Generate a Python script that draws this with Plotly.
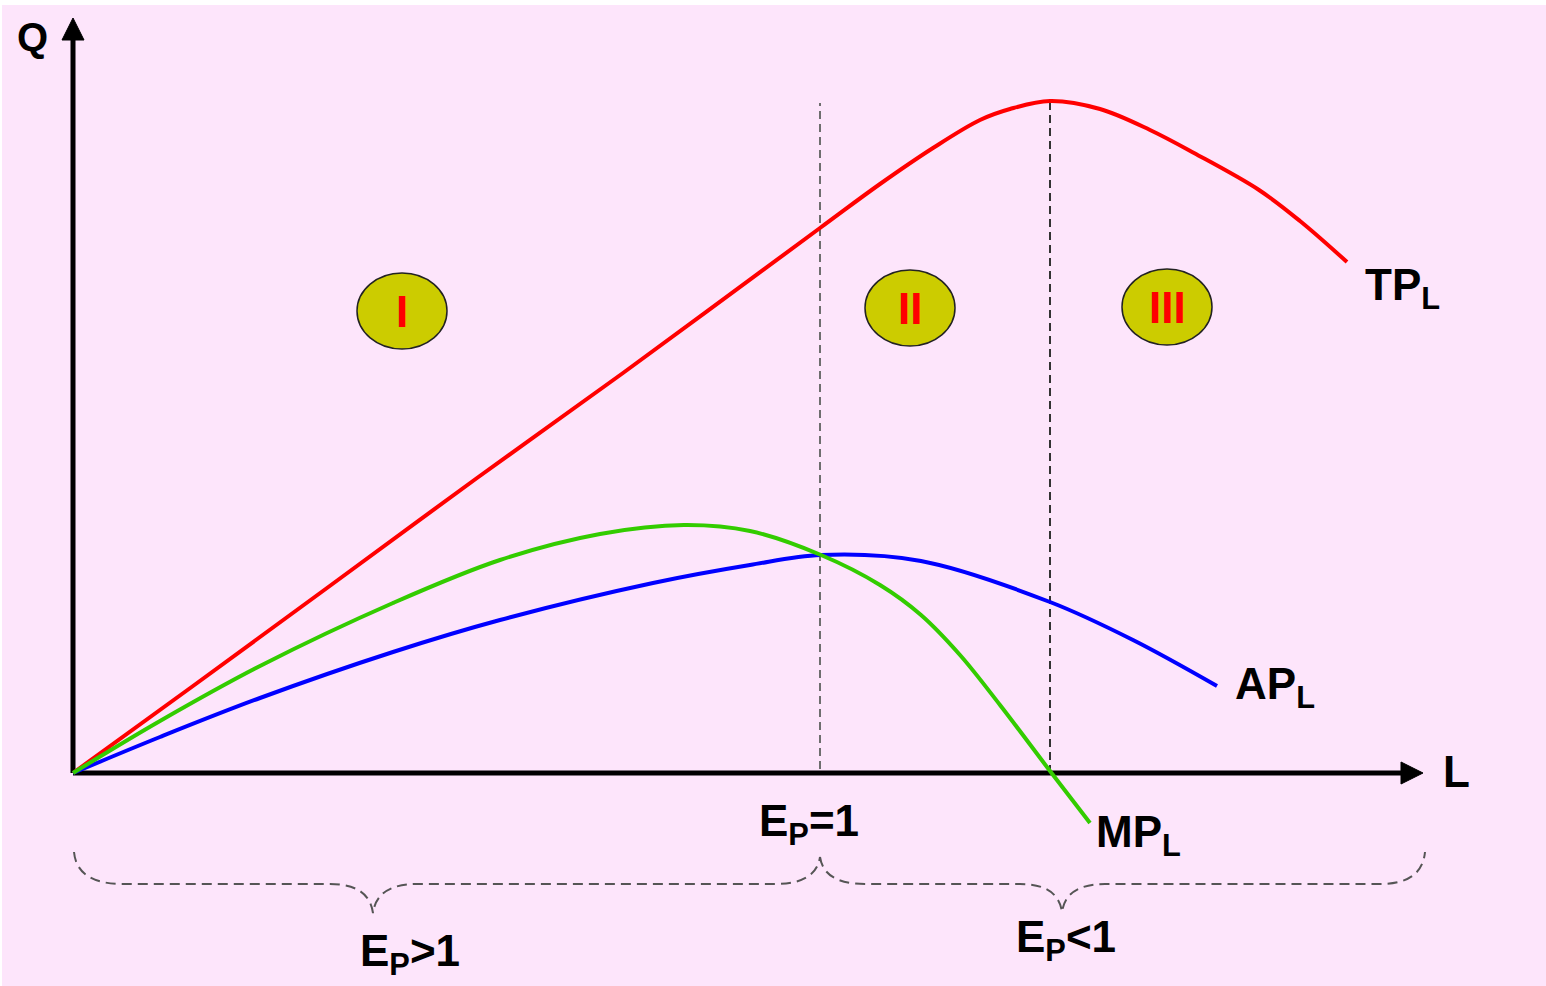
import plotly.graph_objects as go

# ---------------- data (L units, Q units) ----------------
tp_L = [0, 1.20, 2.54, 4.04, 5.50, 7.47, 8.07, 8.60, 9.07, 9.37, 9.77, 10.27, 10.77, 11.21, 11.86, 12.27, 12.74]
tp_Q = [0, 0.87, 1.85, 2.95, 4.00, 5.45, 5.89, 6.25, 6.53, 6.64, 6.72, 6.64, 6.43, 6.20, 5.83, 5.52, 5.11]

ap_L = [0, 0.87, 1.87, 3.20, 4.27, 5.80, 6.77, 7.48, 8.48, 9.77, 10.60, 11.44]
ap_Q = [0, 0.36, 0.75, 1.21, 1.53, 1.90, 2.08, 2.18, 2.12, 1.71, 1.33, 0.87]

mp_L = [0, 0.87, 1.87, 3.20, 4.27, 5.27, 6.11, 6.77, 7.48, 8.07, 8.48, 8.87, 9.27, 9.77, 10.17]
mp_Q = [0, 0.52, 1.07, 1.70, 2.13, 2.39, 2.48, 2.42, 2.18, 1.88, 1.58, 1.18, 0.68, 0.02, -0.50]

ep1_L = 7.47        # AP max, E_P = 1
tpmax_L = 9.77      # TP max, MP = 0
ep1_top = 6.70
tpmax_top = 6.72

stage_labels = ["I", "II", "III"]
stage_L = [3.29, 8.37, 10.94]
stage_Q = [4.62, 4.65, 4.66]

# ---------------- styling ----------------
BG = "#FDE5FB"
FONT = "Liberation Sans, Arial, sans-serif"
FS = 44
RED = "#FF0000"
BLUE = "#0000FF"
GREEN = "#33CC00"

X_RANGE = [-0.73, 14.73]
Y_RANGE = [-2.13, 7.73]
x_axis_end = 13.50
y_axis_end = 7.55

fig = go.Figure()

for xs, ys, c in ((tp_L, tp_Q, RED), (ap_L, ap_Q, BLUE), (mp_L, mp_Q, GREEN)):
    fig.add_trace(go.Scatter(x=xs, y=ys, mode="lines",
                             line=dict(color=c, width=4, shape="spline", smoothing=1.0),
                             hoverinfo="skip"))

shapes = []
# pink background panel
shapes.append(dict(type="rect", xref="paper", yref="paper", x0=2 / 1546, x1=1, y0=0, y1=1 - 5 / 986,
                   fillcolor=BG, line=dict(width=0), layer="below"))
# dashed vertical lines
shapes.append(dict(type="line", xref="x", yref="y", x0=ep1_L, x1=ep1_L, y0=0.04, y1=ep1_top,
                   line=dict(color="#6E6E6E", width=2, dash="8px,5px"), layer="below"))
shapes.append(dict(type="line", xref="x", yref="y", x0=tpmax_L, x1=tpmax_L, y0=0.0, y1=tpmax_top,
                   line=dict(color="#333333", width=2, dash="8px,5px"), layer="below"))
# axes
shapes.append(dict(type="line", xref="x", yref="y", x0=0, x1=x_axis_end - 0.15, y0=0, y1=0,
                   line=dict(color="black", width=5), layer="below"))
shapes.append(dict(type="line", xref="x", yref="y", x0=0, x1=0, y0=0, y1=y_axis_end - 0.15,
                   line=dict(color="black", width=5), layer="below"))
# arrow heads
hx, hy = 0.22, 0.11
shapes.append(dict(type="path", xref="x", yref="y",
                   path=f"M {x_axis_end},0 L {x_axis_end - hx},{hy} L {x_axis_end - hx},{-hy} Z",
                   fillcolor="black", line=dict(color="black", width=1), layer="below"))
shapes.append(dict(type="path", xref="x", yref="y",
                   path=f"M 0,{y_axis_end} L {-hy},{y_axis_end - hx} L {hy},{y_axis_end - hx} Z",
                   fillcolor="black", line=dict(color="black", width=1), layer="below"))

# braces
by = -1.11
b1 = (f"M 0.01,-0.79 Q 0.04,{by} 0.50,{by} L 2.57,{by} Q 2.96,{by} 3.00,-1.40 "
      f"Q 3.04,{by} 3.44,{by} L 7.02,{by} Q 7.43,{by} {ep1_L},-0.84")
b2 = (f"M {ep1_L},-0.84 Q 7.51,{by} 7.92,{by} L 9.47,{by} Q 9.85,{by} 9.89,-1.39 "
      f"Q 9.93,{by} 10.32,{by} L 13.07,{by} Q 13.49,{by} 13.52,-0.79")
for p in (b1, b2):
    shapes.append(dict(type="path", xref="x", yref="y", path=p,
                       line=dict(color="#555555", width=2, dash="10px,6px"), layer="below"))

# stage ellipses
for lx, qy in zip(stage_L, stage_Q):
    shapes.append(dict(type="circle", xref="x", yref="y", x0=lx - 0.45, x1=lx + 0.45,
                       y0=qy - 0.38, y1=qy + 0.38, fillcolor="#CCCC00",
                       line=dict(color="#222222", width=1.5), layer="above"))

annotations = []


def lab(text, x, y, xanchor="left", yanchor="middle", size=FS, color="black"):
    annotations.append(dict(text=text, x=x, y=y, xref="x", yref="y", showarrow=False,
                            xanchor=xanchor, yanchor=yanchor,
                            font=dict(family=FONT, size=size, color=color)))


for t, lx, qy in zip(stage_labels, stage_L, stage_Q):
    lab(f"<b>{t}</b>", lx, qy, xanchor="center", color=RED)

lab("<b>Q</b>", -0.41, 7.36, xanchor="center", size=40)
lab("<b>L</b>", 13.83, 0.02, xanchor="center")
lab("<b>TP<sub>L</sub></b>", 12.90, 4.85)
lab("<b>AP<sub>L</sub></b>", 11.60, 0.86)
lab("<b>MP<sub>L</sub></b>", 10.21, -0.62)
lab("<b>E<sub>P</sub>=1</b>", 7.36, -0.51, xanchor="center")
lab("<b>E<sub>P</sub>&lt;1</b>", 9.93, -1.67, xanchor="center")
lab("<b>E<sub>P</sub>&gt;1</b>", 3.37, -1.81, xanchor="center")

fig.update_layout(
    width=1546, height=986,
    margin=dict(l=0, r=0, t=0, b=0),
    paper_bgcolor="white", plot_bgcolor="rgba(0,0,0,0)",
    showlegend=False,
    xaxis=dict(range=X_RANGE, visible=False, fixedrange=True),
    yaxis=dict(range=Y_RANGE, visible=False, fixedrange=True),
    shapes=shapes, annotations=annotations,
)

fig.write_html("out.html", config={"displayModeBar": False},
               post_script="document.body.style.margin='0';document.body.style.overflow='hidden';")
